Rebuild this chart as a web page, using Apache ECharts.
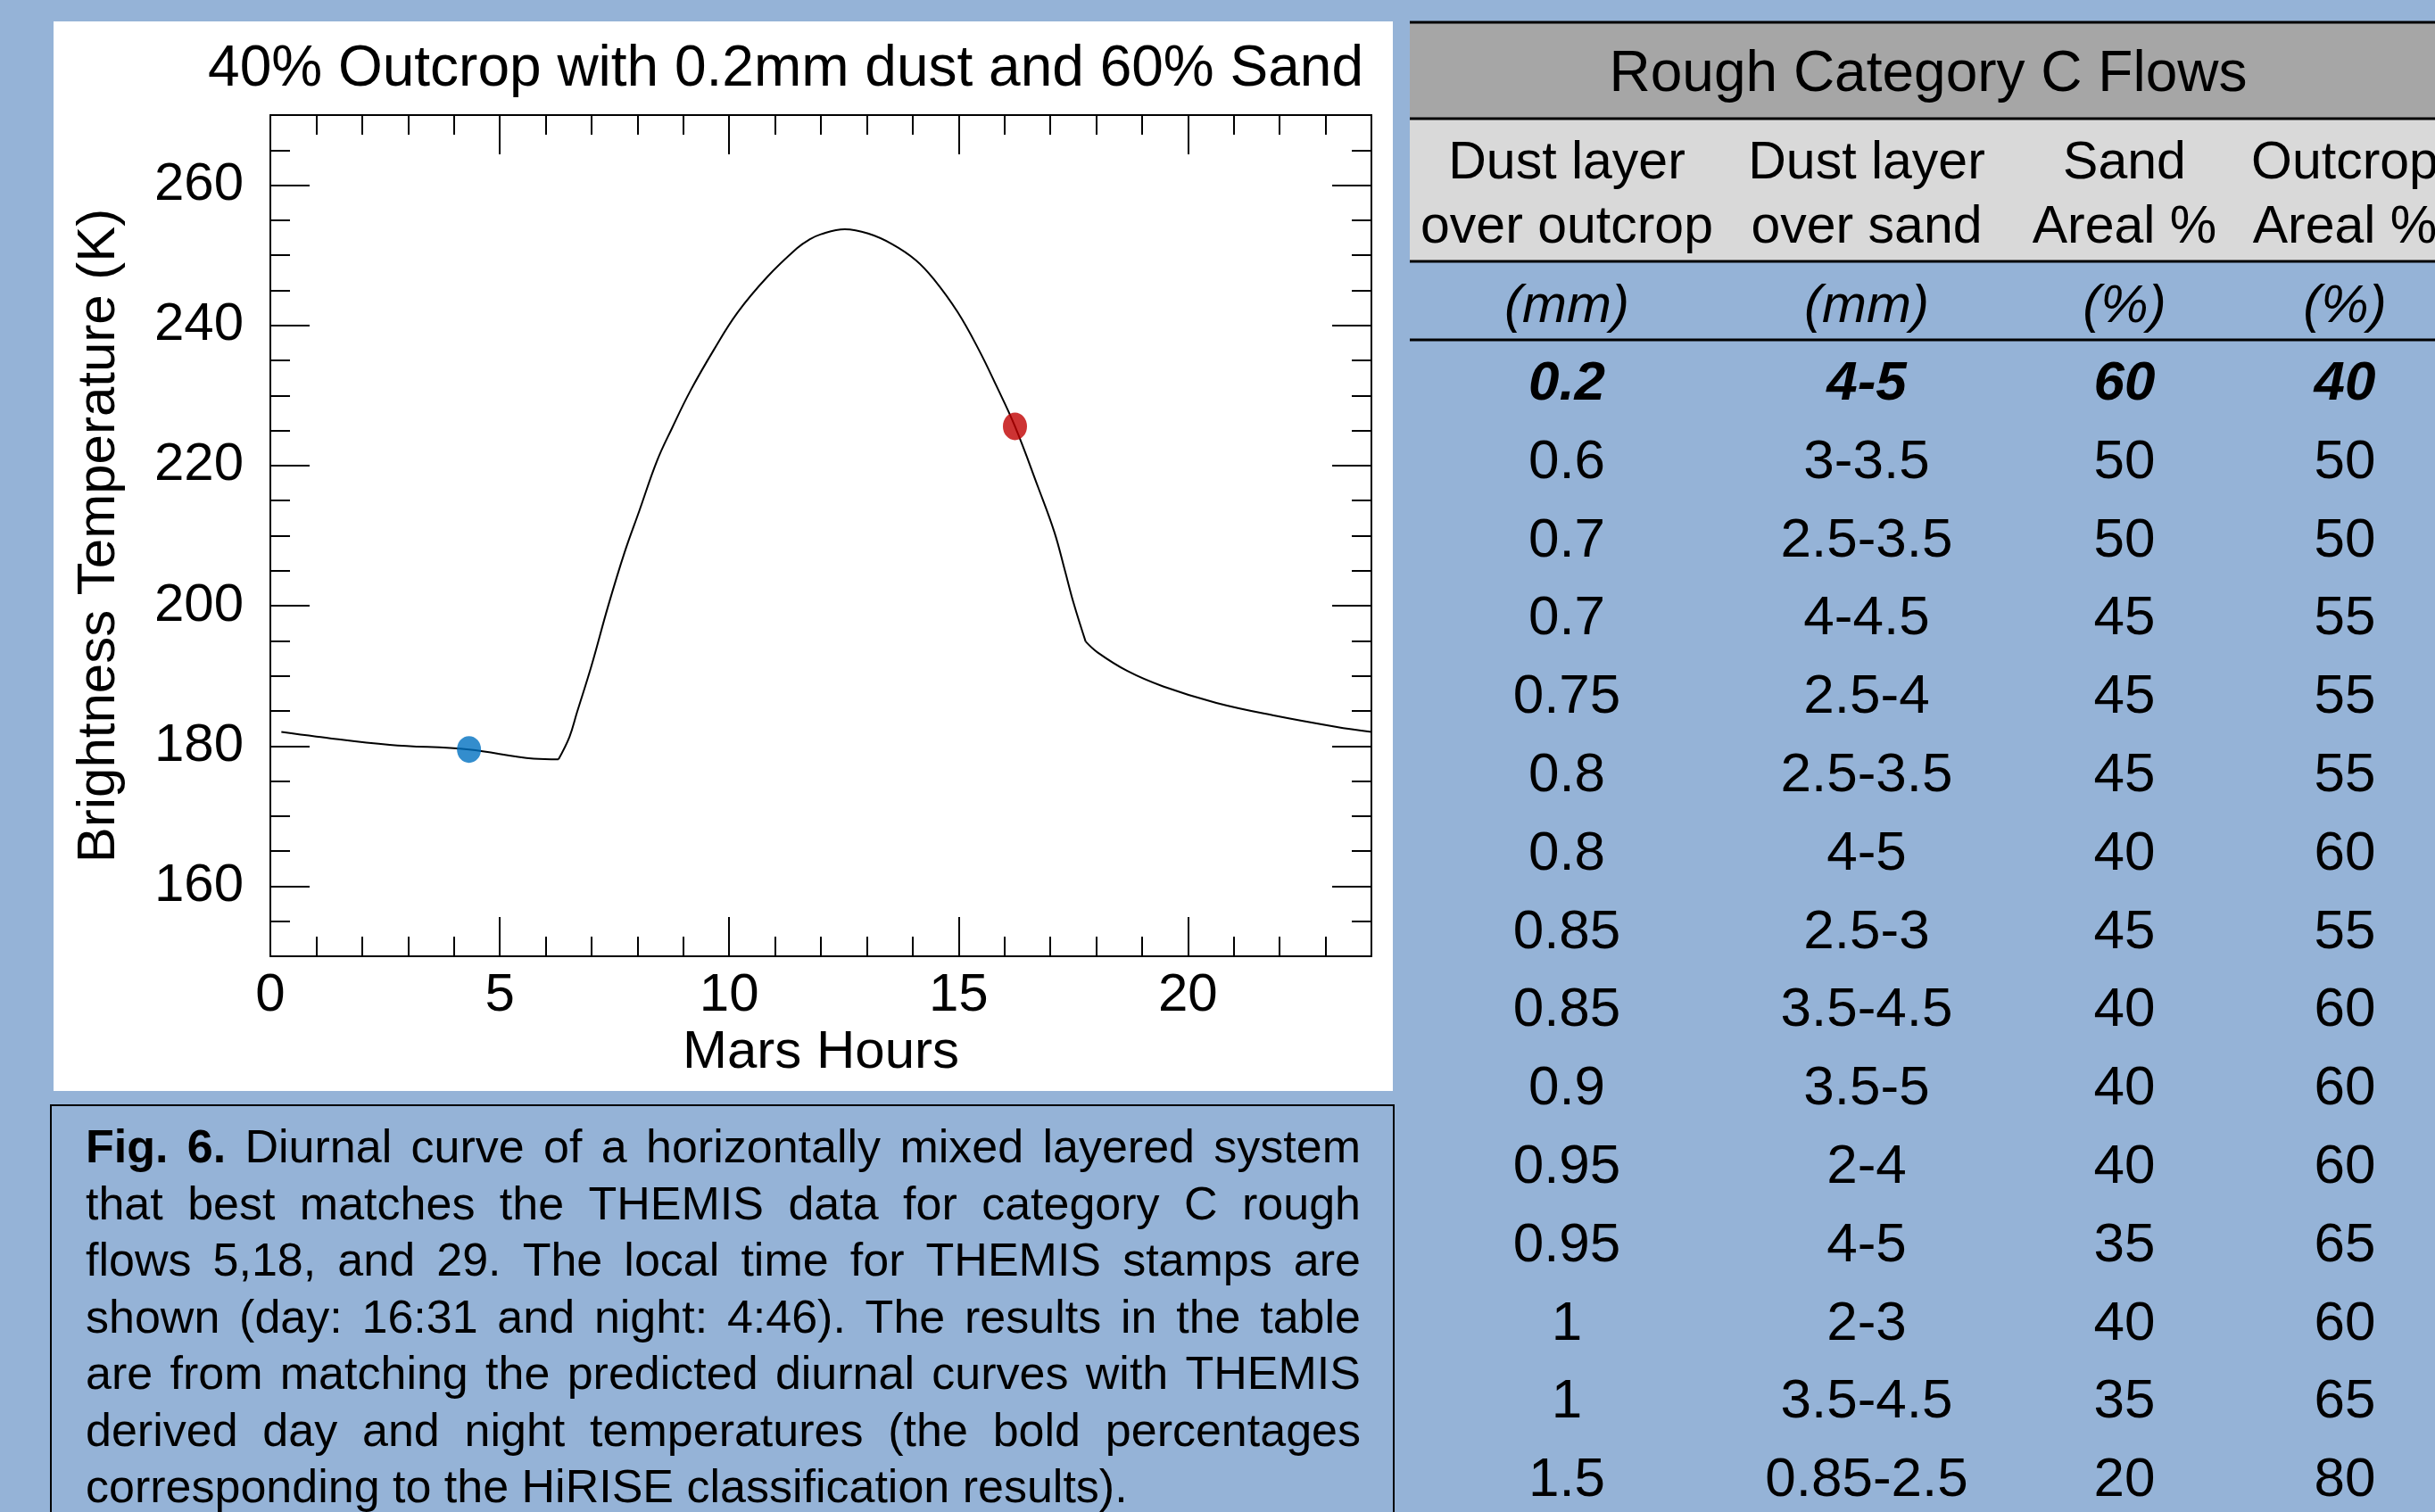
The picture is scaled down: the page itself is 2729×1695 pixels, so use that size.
<!DOCTYPE html>
<html>
<head>
<meta charset="utf-8">
<title>Diurnal curve - Rough Category C Flows</title>
<script src="https://cdn.jsdelivr.net/npm/echarts@6/dist/echarts.min.js"></script>
<style>
  html, body { margin: 0; padding: 0; background: #95B3D7; }
  #main { width: 2729px; height: 1695px; }
</style>
</head>
<body>
<div id="main"></div>
<script>
// curve (Mars hours, brightness temperature K),
// split at the two kinks so the smoothing keeps them sharp
const nightHours = [0.24, 1.0, 2.6, 4.33, 5.74, 6.28];
const nightTemps = [182.0, 181.35, 180.17, 179.5, 178.2, 178.1];
const dayHours = [6.28, 6.52, 6.68, 7.0, 7.36, 7.72, 8.04, 8.43, 8.76, 9.15, 9.67, 10.18, 10.83, 11.48,
  11.74, 12.0, 12.52, 13.03, 13.55, 14.07, 14.46, 14.98, 15.44, 15.82, 16.23, 16.73, 17.09, 17.32, 17.51, 17.77];
const dayTemps = [178.1, 181.3, 184.7, 191.45, 199.9, 207.6, 213.5, 220.7, 225.4, 230.6, 236.55, 241.8, 246.9,
  251.0, 252.2, 253.0, 253.7, 253.1, 251.6, 249.3, 246.6, 241.9, 236.55, 231.45, 225.6, 217.0, 210.5,
  205.0, 200.35, 194.9];
const eveHours = [17.77, 18.03, 18.68, 19.46, 20.62, 21.92, 23.22, 24.0];
const eveTemps = [194.9, 193.35, 190.7, 188.5, 186.15, 184.3, 182.75, 182.0];
const nightStamp = [4.33, 179.5];
const dayStamp = [16.23, 225.6];

const xMajor = [0, 5, 10, 15, 20];
const yMajor = [160, 180, 200, 220, 240, 260];

// table
const tableTitle = 'Rough Category C Flows';
const headLine1 = ['Dust layer', 'Dust layer', 'Sand', 'Outcrop'];
const headLine2 = ['over outcrop', 'over sand', 'Areal %', 'Areal %'];
const units = ['(mm)', '(mm)', '(%)', '(%)'];
const dustOutcrop = ['0.2', '0.6', '0.7', '0.7', '0.75', '0.8', '0.8', '0.85', '0.85', '0.9', '0.95', '0.95', '1', '1', '1.5'];
const dustSand = ['4-5', '3-3.5', '2.5-3.5', '4-4.5', '2.5-4', '2.5-3.5', '4-5', '2.5-3', '3.5-4.5', '3.5-5', '2-4', '4-5', '2-3', '3.5-4.5', '0.85-2.5'];
const sandPct = ['60', '50', '50', '45', '45', '45', '40', '45', '40', '40', '40', '35', '40', '35', '20'];
const outcropPct = ['40', '50', '50', '55', '55', '55', '60', '55', '60', '60', '60', '65', '60', '65', '80'];

// caption, one entry per printed line; first two words bold
const captionLines = [
  'Fig. 6. Diurnal curve of a horizontally mixed layered system',
  'that best matches the THEMIS data for category C rough',
  'flows 5,18, and 29. The local time for THEMIS stamps are',
  'shown (day: 16:31 and night: 4:46). The results in the table',
  'are from matching the predicted diurnal curves with THEMIS',
  'derived day and night temperatures (the bold percentages',
  'corresponding to the HiRISE classification results).'
];

const FONT = 'Liberation Sans';
const chart = echarts.init(document.getElementById('main'));

let g = [];
// white panel behind the plot
g.push({ type: 'rect', z: -10, shape: { x: 60, y: 24, width: 1501, height: 1199 }, style: { fill: '#ffffff' } });

// caption box
g.push({ type: 'rect', z: -5, shape: { x: 57, y: 1239, width: 1505, height: 600 },
  style: { fill: 'none', stroke: '#000', lineWidth: 2 } });

// justified caption text
const ctx = document.createElement('canvas').getContext('2d');
const capSize = 52, capLeft = 96, capRight = 1525, capTop = 1289, capStep = 63.5;
captionLines.forEach((line, li) => {
  const words = line.split(' ');
  const ws = words.map((w, wi) => {
    const bold = li === 0 && wi < 2;
    ctx.font = (bold ? 'bold ' : '') + capSize + 'px "' + FONT + '"';
    return ctx.measureText(w).width;
  });
  const total = ws.reduce((a, b) => a + b, 0);
  ctx.font = capSize + 'px "' + FONT + '"';
  let gap = ctx.measureText(' ').width;
  if (li < captionLines.length - 1) gap = (capRight - capLeft - total) / (words.length - 1);
  let x = capLeft;
  words.forEach((w, wi) => {
    const bold = li === 0 && wi < 2;
    g.push({ type: 'text', z: 5, style: { text: w, x: x, y: capTop + li * capStep,
      fontSize: capSize, fontFamily: FONT, fontWeight: bold ? 'bold' : 'normal',
      fill: '#000', align: 'left', verticalAlign: 'middle' } });
    x += ws[wi] + gap;
  });
});

// table bands and rules
const tL = 1580, tR = 2729;
g.push({ type: 'rect', z: -5, shape: { x: tL, y: 25, width: tR - tL, height: 108 }, style: { fill: '#A6A6A6' } });
g.push({ type: 'rect', z: -5, shape: { x: tL, y: 133, width: tR - tL, height: 160 }, style: { fill: '#D9D9D9' } });
[25, 133, 293, 381].forEach(y => {
  g.push({ type: 'line', z: 4, shape: { x1: tL, y1: y, x2: tR, y2: y }, style: { stroke: '#000', lineWidth: 3 } });
});
g.push({ type: 'text', z: 5, style: { text: tableTitle, x: 2161, y: 84, fontSize: 64, fontFamily: FONT,
  fill: '#000', align: 'center', verticalAlign: 'middle' } });

const colX = [1756, 2092, 2381, 2628];
colX.forEach((cx, i) => {
  g.push({ type: 'text', z: 5, style: { text: headLine1[i], x: cx, y: 184, fontSize: 59, fontFamily: FONT,
    fill: '#000', align: 'center', verticalAlign: 'middle' } });
  g.push({ type: 'text', z: 5, style: { text: headLine2[i], x: cx, y: 256, fontSize: 59, fontFamily: FONT,
    fill: '#000', align: 'center', verticalAlign: 'middle' } });
  g.push({ type: 'text', z: 5, style: { text: units[i], x: cx, y: 344, fontSize: 60, fontFamily: FONT,
    fontStyle: 'italic', fill: '#000', align: 'center', verticalAlign: 'middle' } });
});
const cols = [dustOutcrop, dustSand, sandPct, outcropPct];
for (let r = 0; r < dustOutcrop.length; r++) {
  cols.forEach((col, i) => {
    g.push({ type: 'text', z: 5, style: { text: col[r], x: colX[i], y: 431 + r * 87.8, fontSize: 62,
      fontFamily: FONT, fontWeight: r === 0 ? 'bold' : 'normal', fontStyle: r === 0 ? 'italic' : 'normal',
      fill: '#000', align: 'center', verticalAlign: 'middle' } });
  });
}

// axes: major + minor on each side so tick lengths can differ
const lineStyle = { color: '#000', width: 2 };
function xAx(pos, major, labels) {
  return {
    type: 'value', position: pos, min: 0, max: 24,
    interval: major ? 5 : 1,
    axisLine: { show: major, onZero: false, lineStyle: lineStyle },
    axisTick: { inside: true, length: major ? 44 : 22, lineStyle: lineStyle, customValues: major ? xMajor : undefined },
    axisLabel: { show: labels, customValues: xMajor, fontSize: 60, color: '#000', margin: 14, fontFamily: FONT },
    splitLine: { show: false },
    name: labels ? 'Mars Hours' : '', nameLocation: 'middle', nameGap: 76,
    nameTextStyle: { fontSize: 60, color: '#000', fontFamily: FONT }
  };
}
function yAx(pos, major, labels) {
  return {
    type: 'value', position: pos, min: 150, max: 270,
    interval: major ? 10 : 5,
    axisLine: { show: major, onZero: false, lineStyle: lineStyle },
    axisTick: { inside: true, length: major ? 44 : 22, lineStyle: lineStyle, customValues: major ? yMajor : undefined },
    axisLabel: { show: labels, customValues: yMajor, fontSize: 60, color: '#000', margin: 30, fontFamily: FONT,
      padding: [10, 0, 0, 0] },
    splitLine: { show: false },
    name: labels ? 'Brightness Temperature (K)' : '', nameLocation: 'middle', nameGap: 162, nameRotate: 90,
    nameTextStyle: { fontSize: 60, color: '#000', fontFamily: FONT }
  };
}

function curve(hs, ts) {
  return {
    type: 'line', xAxisIndex: 0, yAxisIndex: 0, showSymbol: false, smooth: 0.4,
    lineStyle: { color: '#000', width: 2 }, z: 3,
    data: hs.map((h, i) => [h, ts[i]])
  };
}

chart.setOption({
  backgroundColor: '#95B3D7',
  animation: false,
  textStyle: { fontFamily: FONT },
  title: {
    text: '40% Outcrop with 0.2mm dust and 60% Sand',
    right: 1201, top: 46, padding: 0,
    textStyle: { fontSize: 64, fontWeight: 'normal', color: '#000', fontFamily: FONT }
  },
  grid: { left: 303, top: 129, width: 1234, height: 943, show: true, backgroundColor: '#fff', borderWidth: 0 },
  xAxis: [xAx('bottom', true, true), xAx('bottom', false, false), xAx('top', true, false), xAx('top', false, false)],
  yAxis: [yAx('left', true, true), yAx('left', false, false), yAx('right', true, false), yAx('right', false, false)],
  graphic: { elements: g },
  series: [
    curve(nightHours, nightTemps),
    curve(dayHours, dayTemps),
    curve(eveHours, eveTemps),
    {
      type: 'scatter', xAxisIndex: 0, yAxisIndex: 0, symbolSize: [27, 30],
      itemStyle: { color: '#0070C0' }, data: [nightStamp], z: 4
    },
    {
      type: 'scatter', xAxisIndex: 0, yAxisIndex: 0, symbolSize: [27, 31],
      itemStyle: { color: '#C00000' }, data: [dayStamp], z: 4
    }
  ]
});
</script>
</body>
</html>
